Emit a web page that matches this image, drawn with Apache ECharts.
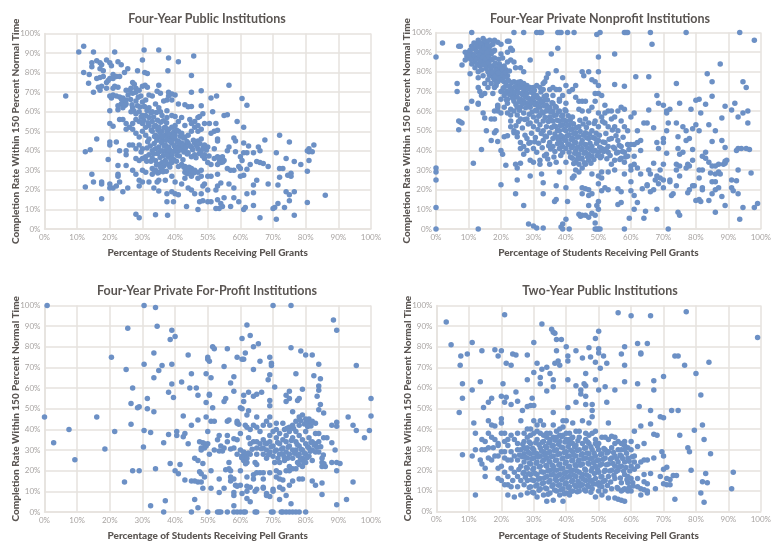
<!DOCTYPE html>
<html>
<head>
<meta charset="utf-8">
<title>Completion rate and Pell grants</title>
<script src="https://cdn.jsdelivr.net/npm/echarts@6/dist/echarts.min.js"></script>
<style>
html, body { margin: 0; padding: 0; background: #fff; }
#chart { width: 774px; height: 542px; }
</style>
</head>
<body>
<div id="chart"></div>
<script>
// 读图估计的数据 [Pell %, 完成率 %]
var publicPoints = [
[6.5,68],[10.5,90.5],[12,93.5],[15,90.5],[21.5,90.5],[30.5,91.5],[35,91.5],[38,87.5],[41,85.5],[45.7,88.5],[30,86.5],[12,80],[13.7,79],[14.5,85],[14.5,83],[16,86],[17,85],[17.5,84],[17,82],[18,81],
[19,86.5],[20,85],[20.5,83.5],[22.5,85.5],[23.5,84],[21,79],[22,78],[23,78],[24.5,80],[25.5,82],[28.5,81],[30.7,80],[31.5,79.5],[37.8,81],[45,78.5],[13.5,74.5],[15,70],[16.5,72.5],[17,71],[17.5,73],
[16,77],[17,77.5],[18,78],[19,72],[19,75],[19.5,76],[20,77],[21,77],[21.5,73],[22.5,72.5],[21,72],[20.5,67],[20,68],[21,68.5],[22,68],[23,67.5],[24,67],[25,66],[24,65.5],[23.5,64],
[25,64],[22.5,63],[24,62],[22.5,61],[20,60.5],[26,71],[25,71],[27,75],[27.5,74],[26.5,72],[28,72],[28,70],[27,69.5],[29,71],[30,73],[30.8,73.5],[31.5,72.5],[29.5,68],[31,66],[30,65],
[28,65.5],[28.5,63],[27,62],[26.5,60],[28,59],[29,60],[30,58],[31,58],[32,57],[32,62],[33,60],[34,64],[33,68],[32,68.5],[34.5,70.5],[35.5,69.5],[35,73.5],[38,70],[39,69],[40,68.5],
[38,68],[37.5,66],[39,66],[36.5,65.5],[35,62],[35.5,60],[37.5,60.5],[36,58],[37.5,57],[39,58],[40,57.5],[41,64],[43,63.5],[44,62.5],[45,62.7],[45,70],[48,70.7],[48,63],[52.7,68],[51,67],
[56.5,73.5],[60.5,66.7],[62,63.3],[51.5,60],[48.5,59],[47,57],[47.5,57.5],[46,55],[44.5,56],[43,53],[42,57],[41,55],[40,53],[39,52],[38,51],[37,52],[36,50],[35,52],[34,53],[33,55],
[32,53],[31,52],[30,54],[29,55],[28,56],[27,54],[26,52],[25,54],[24,56],[23,56],[21,52.5],[20,54],[25,51],[27,51],[28,49],[29,47],[30,50],[31,48],[32,46],[33,50],[34,48],[35,47],
[36,46],[37,48],[38,47],[39,46],[40,48],[41,50],[42,49],[43,47],[44,48],[45,50],[46,52],[47,50],[48,51],[49,54],[50.5,54],[45,54],[47,53],[52.5,54],[53,50.5],[52,50],[51,49],[55,58],[56,58.5],
[59,55],[61,52],[58,46.5],[58.5,45],[61,44],[53,46],[53,45],[56.5,42],[56,40],[58.5,39.5],[61,39],[62,39],[64,39],[65.5,42],[66,40],[67.5,45.5],[72,48],[75,44.5],[71,39],[80.5,40],
[81,41],[81,39.5],[82,39.5],[82.5,43],[81,35],[80.5,29.5],[78.5,33],[76.5,34.5],[74,36],[72,31],[73,31],[68.5,32],[67,33.5],[66,34],[65,34.5],[63,33],[62,30.5],[60,31],[59.5,32],[60,27],
[61,27.5],[58,30],[57,30],[56,31],[55,35],[54,34],[53,33],[52,36],[53,37],[54,36],[54.5,37],[52,41],[50,42],[49,38],[48,40],[47,41],[46,44],[47,45],[48,46],[49,43],[44,44],[45,42],
[43,43],[42,44],[41,45],[40,46],[39,44],[38,42],[37,43],[36,44],[35,42],[34,41],[33,40],[32,38],[31,37],[30,36],[29,35],[28,36],[36,40],[37,40],[38,39],[39,38],[40,42],[41,42],[42,41],[43,40],
[44,39],[45,37],[46,38],[40,40],[41,40],[38,37],[39,36],[37,35],[36,34],[35,33],[36,31],[35,29],[34,30],[33,31],[34,35],[33,36],[38,33],[39,34],[41,32],[42,33],[43,32],[44,30],[43,29],[45,31],
[46,30],[47,29],[48,30],[45,27],[47,26],[48,27],[50,27],[51,27],[53,28],[51,33],[50,34],[49,36],[30,30],[31,29],[33,28],[35,25],[37,25],[39,27],[40,24],[42,23],[43,26],[44,21],[45,20],[46,18],
[48,18],[48.5,22],[49,23],[47.5,14],[48.5,14.5],[50,14],[51,14],[47,10],[52.5,10.5],[53.5,10.5],[54.5,11.5],[55,16],[53,15],[54,13],[57,11.5],[58,16],[58,21],[56.5,23],[54,23.5],[53,22],[52.5,20],[50,20],
[43.5,11.5],[39.5,14],[37.5,14],[39,19],[40,18],[41,17.5],[37.5,18],[35,19.5],[33.5,21],[34.5,24],[32,24],[30,24],[29,22],[29,25],[25.5,21],[24,19],[22,22],[21,21],[20,21],[20,23],
[23,24],[22.5,27],[22.5,28],[22.5,32.5],[25,32.5],[27,30],[28,28],[17.5,15.5],[17.5,24],[17.5,23],[15,24],[14.5,28],[12.5,21.5],[12.5,39.5],[14,40.5],[16,46],[19.5,35.5],[20,43],[20,44.5],[22,44.5],
[23,40],[25,38],[25,40],[26,43],[27,43],[28,41],[29,43],[30,41],[28,7.5],[29,5.7],[34,7.3],[37.7,7],[59.5,14],[61,10],[61.5,11],[64,12],[62,18],[64,18.5],[64,22.5],[65,25],[68.5,23],[71.5,22.5],
[72,26.5],[74,19],[75,17.5],[73.5,11],[75,14.5],[71.5,13],[70,10.5],[70.5,11],[71,5],[66,5.7],[76.5,7],[76.5,19],[74.5,27.5],[75.5,27],[75.5,28.5],[80.5,13.5],[86,17.3],[62.5,42.5],[60,37],[60.5,35]
];
// 中心密集区补点
var publicDense = [
[23.6,66.4],[24.7,63.3],[25.6,68.6],[26.4,66.3],[26.8,63.6],[27.4,60.3],[28.7,67.4],[29.3,62.4],[29.6,57.3],[30.6,62.7],[30.4,55.6],[31.4,60.6],[31.7,54.4],[32.6,59.4],[32.7,50.6],[33.4,57.3],[33.6,52.4],[33.7,47.3],[34.3,59.6],[34.6,55.6],
[34.7,50.7],[34.4,45.4],[35.6,54.6],[35.4,49.3],[35.7,44.6],[35.3,39.7],[36.4,55.4],[36.6,51.6],[36.3,47.6],[36.7,42.4],[36.4,37.6],[36.6,32.4],[37.4,54.3],[37.6,49.7],[37.3,45.4],[37.7,41.3],[37.4,37.7],[37.6,33.4],[37.3,29.6],[38.4,48.6],
[38.6,44.7],[38.3,40.6],[38.7,35.6],[38.4,31.7],[39.6,49.7],[39.3,47.4],[39.7,42.6],[39.4,39.7],[39.6,35.4],[40.4,50.6],[40.7,44.4],[40.3,41.4],[40.6,37.7],[40.4,34.6],[41.6,47.4],[41.4,43.7],[41.7,40.6],[41.3,37.3],[42.6,46.6],[42.4,42.7],
[42.7,39.4],[42.4,35.4],[42.7,31.6],[43.6,44.7],[43.3,41.7],[43.7,38.3],[43.4,30.6],[43.7,28.3],[44.6,42.6],[44.3,31.6],[44.7,29.4],[45.6,45.4],[45.4,40.6],[45.7,28.6],[46.6,42.4],[46.4,36.4],[47.6,43.6],[47.4,38.6],[48.6,41.4],[48.4,37.3],
[49.6,40.4],[50.4,37.4],[53.6,34.6],[54.6,34.3],[53.4,36.4],[31.6,44.6],[32.4,42.4],[33.6,43.7],[34.6,38.6],[33.4,38.4],[34.3,32.7],[35.6,31.4],[35.4,36.6],[32.6,34.7],[31.3,34.6],[34.7,28.6],[36.3,29.3],[33.7,29.6],[29.6,39.4],[31.4,41.4]
];
var nonprofitPoints = [
[0,87.5],[2,94.7],[0,31],[0,29],[0,25],[0,11],[0,0],[13,0],[11,100],[24,100],[27,100],[31,100],[32,100],[32.5,100],[37.5,100],[38,100],[38.5,100],[40.5,100],[42.5,100],[49.5,99],[50.5,100],[58,100],[58.5,100],[59,100],
[66,100],[77,100],[93.5,100],[98,96],[66.5,94],[55,89],[35.5,89],[37.5,92],[29,86],[50,87.5],[6.5,74],[6.5,70],[7,55],[7.5,54.5],[8,54],[7,50.5],[9.5,61.5],[11,65],[13,64],[13,63.5],[14,68],[11.5,33.5],
[14,40.5],[20,22.5],[25,25],[24.5,18],[29,27],[27,12],[28.5,2.5],[30,1.5],[31,0.5],[33,0.5],[33,18],[33,23.5],[32.5,28],[7,93],[7.5,93],[8,83.5],[9,86],[9.5,88],[10,90],[9,90],[10,87],[10.5,91],[11,93],
[11,89],[11.5,87],[11,84],[10.5,79],[12,82],[12,85],[12,92],[12.5,94],[13,96],[13,90],[13,87],[13.5,83],[13,80],[13,77],[13,72],[13.5,70],[14,92],[14,89],[14,86],[14,81],[14.5,97],[14.5,94],[14.5,78],[15,90],
[15,85],[15,74],[15,69],[15.5,95],[15.5,92],[15.5,88],[16,83],[16,80],[16,76],[16,72],[16.5,96],[16.5,91],[16.5,86],[17,89],[17,78],[17,81],[17,74],[17.5,94],[17.5,83],[17.5,69],[18,96],[18,91],[18,87],[18,79],
[18,76],[18.5,82],[18.5,73],[19,95],[19,81],[19,78],[19,75],[19.5,84],[20,94],[20,89],[20,80],[20,77],[20.5,87],[20.5,79],[21,83],[21,75],[21.5,81],[22,90],[22,95.5],[22.5,95.5],[23,92],[23.5,91],[23,86],[24,85],
[24.5,82],[26,82],[27,80],[22,78],[22,85],[25,73],[24,75],[23,72],[22,70],[21,72],[20,70],[20,66],[21,68],[22,66],[23,69],[24,68],[25,71],[26,75],[26,72],[27,74],[27,70],[28,73],[28,69],[29,72],[30,72],[31,73],
[32,72],[33,71],[24,65],[25,67],[26,66],[26,62],[27,65],[28,64],[29,66],[29,62],[30,65],[30,69],[31,60],[31,64],[31,68],[32,66],[32,62],[33,65],[33,59],[34,63],[34,68],[34,60],[35,57],[35,62],[35,71],[36,55],
[36,60],[36,64],[36,68],[37,52],[37,58],[37,62],[38,50],[38,55],[38,60],[38,65],[39,47],[39,53],[39,58],[40,45],[40,50],[40,55],[40,60],[41,43],[41,48],[41,53],[42,42],[42,46],[42,51],[42,57],[43,40],[43,44],[43,49],
[44,38],[44,47],[44,52],[45,36],[45,41],[45,45],[46,39],[46,43],[46,49],[47,35],[47,38],[47,46],[47,54],[48,37],[48,42],[48,50],[49,40],[49,46],[50,39],[50,45],[50,52],[51,41],[51,37],[52,44],[52,54],[53,42],[53,39],[54,46],
[55,41],[55,35],[56,39],[56,50],[57,36],[57,42],[58,34],[58,39],[59,37],[59,43],[60,32],[60,43],[61,37],[18,72],[19,62],[18,60],[19,63],[20,59],[21,62],[22,64],[23,61],[23,58],[24,60],[25,62],[25,58],[26,56],[27,59],[28,56],
[29,54],[30,57],[30,52],[31,55],[32,58],[32,53],[33,55],[33,50],[34,52],[34,47],[35,49],[35,44],[36,46],[36,42],[37,47],[38,45],[38,41],[39,42],[40,41],[41,39],[42,36],[43,34],[44,33],[45,31],[46,33],[44,29],[43,30],[24,50],
[25,47],[26,44],[26,41],[27,42],[27,38],[28,46],[28,40],[29,44],[29,35],[30,41],[30,34],[31,39],[32,35],[32,33],[33,45],[34,38],[35,33],[37,34],[38,29],[39,39],[40,34],[25,31],[24.5,33],[20,40],[20.5,38],[21.5,32.5],[26,33.5],
[14.5,59],[15,56.5],[15.5,50],[17,45],[17,56],[18,56],[18,49],[18.5,50],[19,44.5],[19,60],[21,47],[22,47.5],[23,52],[24,49],[25,49],[22,59],[23,55],[30,67],[33,74],[34,77],[33.5,75],[34.5,79],[36,72],[37,71],[37,80.5],[38,66],
[38,71],[39,68],[39,77],[40,73],[40,64],[41,70],[42,71],[43,67],[43,73],[44,65],[44,61],[45,65],[45,60],[45,80],[45.5,78],[46,65],[46,56],[47,60],[47,80],[48,76],[48,62],[49,75],[49,69],[49,65],[49,55],[50,73],[50,80],[50,69],
[50,59],[51,68],[51,57],[52,63],[52,59],[53,60],[53,52],[54,60],[54,56],[55,73.5],[55,57],[55,52],[56,60],[56,45],[57,62],[57,55],[58,72.7],[58,61],[58,52],[59,50],[60,57],[61,43],[61,59],[61.5,77.5],[62,50],[62,44],[63,40],[63,45],
[64,54],[65,54],[65.5,77.5],[65.5,60.5],[67,51.5],[68,68],[68,44],[68.5,41],[68.5,64],[70,63],[70,46],[70,44],[71,60],[71,59],[71.5,54],[71,50],[72,61],[71,38.5],[74,54],[74,74],[74.5,47],[74.5,41],[75,64],[75,38],[76,52],[76,39],
[77,45],[77,50],[78,46],[78.5,61],[79,51],[79,40.5],[80,53],[80,65.5],[81,66],[81,50],[81.5,59],[83,63.5],[83.5,79],[84,53],[85,75],[85,67.5],[85,44.5],[86,50],[87.5,84],[88,56.5],[88,45],[89,62.5],[89,41.5],[91,60.5],[92,64],[93,57],
[93,41],[94.5,59],[94.5,75],[95.5,72],[96,60],[96,54],[92.5,40],[94,41],[95.5,41],[96.5,40.5],[97,28.5],[94.5,11],[93.5,5],[98,11],[99,13],[93,30],[91,25],[92.5,24.5],[93,18],[91,21],[91.5,19.5],[89,12],[88,16.5],[86,8.5],[84,14.5],
[85,18],[86,20],[87,21],[85,24],[86,24],[84.5,28.5],[86,28],[87,29],[87.5,28],[86,32],[87,33],[88.5,33],[89,33.5],[89,34.5],[89.5,35],[85,32],[84,34],[83,36],[83,39],[82,37],[82,30],[81,30],[81,26],[81,15],[80,14.5],[81.5,14],[82,20],
[82,21],[79,22],[79.5,22],[78,20],[77.5,18.5],[77,31],[77.5,33],[78,32],[79,35],[74,33],[75,32],[74,30],[75,27],[74,22],[73,18],[72.5,17],[72,24],[72,25],[74.5,8.5],[75,7],[71.5,0],[70,21],[70,25],[69,26],[68.5,23],[68,27],[67.5,25],
[67,20],[66,19],[65,22],[65.5,30],[66,28],[67,33.5],[69,30],[70,33],[63,28],[62,31],[61,33],[60,30],[60,24],[60,19.5],[61,17],[62,13.5],[61,10],[64.5,9],[64,5.5],[68,10],[63.5,20.5],[65,22.5],[58,0],[59.5,5.5],[57,13.5],[56,12.5],[56,20.5],
[57,19],[58,28],[55,30],[54,33],[53,29],[52,21],[53,20],[51,29],[51,26],[50,27],[50,23],[51,19.5],[50,14],[49.5,12],[50,10],[49,7],[48,8],[47,6],[47,12],[48,18],[48,28],[46,20.5],[47,20],[47,17],[45,21],[45,18],[44,7.5],[44.5,6.5],[45,7],
[46,7],[40,5],[39,2.5],[38.5,1],[39,0],[41,0],[40.5,14],[40,21],[37,22],[37,15],[36.5,14],[42,26],[42.5,27],[49,0],[49.5,0],[50,0],[50.5,0],[49,3]
];
// 深色带状区补点
var nonprofitDense = [
[10.3,88.4],[10.8,86.2],[11.3,91.7],[11.7,94.6],[11.8,88.3],[12.4,90.6],[12.6,86.7],[12.7,83.8],[13.3,92.8],[13.4,88.6],[13.6,85.2],[13.8,94.7],[14.3,90.8],[14.4,87.4],[14.6,83.6],[14.8,92.3],[15.2,95.7],[15.3,86.6],[15.4,81.7],[15.7,89.6],
[15.8,93.6],[16.2,87.6],[16.3,84.6],[16.4,78.4],[16.7,93.2],[16.8,82.6],[17.2,86.3],[17.3,79.6],[17.7,76.8],[17.8,90.4],[18.2,84.4],[18.3,77.7],[18.6,80.6],[18.7,74.6],[19.2,79.5],[19.3,86.4],[19.6,76.6],[19.7,82.7],[20.3,75.7],[20.4,81.6],
[20.6,78.3],[21.2,77.4],[21.4,79.7],[21.6,73.4],[22.3,75.6],[22.6,80.4],[20.7,71.6],[21.3,69.4],[21.7,65.7],[22.4,72.7],[22.7,68.3],[23.3,74.6],[23.4,70.5],[23.6,66.6],[24.3,72.4],[24.4,69.6],[24.6,63.4],[25.3,74.7],[25.4,69.3],[25.6,64.6],
[25.7,60.4],[26.4,73.8],[26.6,68.4],[26.7,63.7],[27.3,71.6],[27.4,67.3],[27.6,61.7],[28.3,71.4],[28.4,66.6],[28.6,62.3],[28.7,58.4],[29.3,69.6],[29.4,64.3],[29.6,59.6],[30.3,70.6],[30.4,63.4],[30.6,60.3],[31.3,66.7],[31.4,62.4],[31.6,57.4],
[32.3,69.7],[32.4,64.4],[32.6,59.7],[33.3,67.4],[33.4,62.6],[33.6,56.7],[34.3,65.6],[34.4,61.3],[34.6,54.7],[35.3,59.6],[35.4,55.3],[35.6,51.6],[35.7,64.3],[36.3,57.7],[36.4,52.6],[36.6,48.3],[36.7,62.4],[37.3,55.4],[37.4,50.3],[37.6,45.7],
[37.7,59.6],[38.3,52.7],[38.4,47.6],[38.6,43.4],[38.7,57.4],[39.3,55.6],[39.4,50.6],[39.6,45.3],[39.7,60.7],[40.3,52.7],[40.4,47.4],[40.6,43.3],[40.7,57.6],[41.3,55.4],[41.4,50.6],[41.6,45.6],[41.7,41.3],[42.3,53.6],[42.4,48.6],[42.6,44.3],
[42.7,38.6],[43.3,51.6],[43.4,46.7],[43.6,41.7],[43.7,37.4],[44.3,55.3],[44.4,49.6],[44.6,43.4],[44.7,35.6],[45.3,53.4],[45.4,47.7],[45.6,38.6],[45.7,33.7],[46.3,51.6],[46.4,46.4],[46.6,41.3],[46.7,36.6],[47.3,48.4],[47.4,43.7],[47.6,40.4],
[47.7,33.4],[48.3,46.6],[48.4,39.6],[48.6,35.4],[48.7,53.7],[49.3,48.7],[49.4,43.6],[49.6,37.4],[50.3,47.7],[50.4,41.6],[50.6,36.3],[51.3,54.7],[51.4,44.3],[51.6,39.4],[52.3,48.6],[52.4,40.7],[52.6,35.7],[53.3,45.7],[53.6,37.4],[54.3,50.4],
[54.6,41.6],[55.4,47.4],[55.6,38.7],[56.4,42.6],[56.6,35.4],[57.4,39.4],[57.6,46.7],[58.4,36.6],[59.4,40.4],[27.3,55.7],[28.4,53.4],[26.6,51.4],[25.4,54.7],[24.6,52.6],[29.4,48.7],[30.6,46.6],[31.4,50.6],[32.4,48.6],[33.6,47.3],[34.7,42.4],
[35.3,40.7],[36.6,39.4],[37.4,43.4],[31.6,43.7],[32.7,41.3],[30.4,44.4],[28.6,43.6],[27.4,47.7],[36.3,36.6],[38.4,37.4],[41.4,36.7],[43.6,35.6],[42.4,33.3],[44.6,40.4],[33.4,37.3],[34.4,35.6]
];
var forprofitPoints = [
[0.8,100],[30.5,100],[34,99],[70,100],[75.5,100],[88.5,93],[89.5,88],[62,90.5],[34.5,90],[25.5,89],[39,88],[38.5,83.5],[40,85],[60.5,84],[63,85.5],[65.5,81.5],[51.5,80],[52,79],[56,79],[64,80],[75.5,79.5],[78.5,78],[80,76],[82,76],
[61.5,77],[20.5,75],[33.5,77],[44,76],[50,75],[50,74],[50.5,73],[59,75],[60.5,74],[61,74],[66,73],[69,75],[69.5,72],[69.5,71],[55,70.5],[95.5,71],[84,71.5],[36,71],[30.5,71.5],[39,71.5],[35,68.5],[25,69],[33.5,65],[45,67],[49.5,67],
[51,65],[57,62.5],[58,65.5],[64,69],[69,66.5],[68.5,64],[77,67],[82.5,66],[84.5,64.5],[84,61],[84,59],[79,59.5],[42,63],[39,62],[27,60],[44.5,60],[46.5,60],[38,58],[47,56.5],[50.5,57],[50.5,56.5],[58,58.5],[61,56.5],[62.5,58],[64,56],
[65,57],[66.5,58],[70.5,60.5],[74,56.5],[75,58.5],[75,55],[74,53.5],[77.5,54],[78,55],[83.5,56],[84,49.5],[84.5,52],[85.5,48],[100,55],[100,46.5],[31.5,55],[39.5,55.5],[26.5,52.5],[28.5,50.5],[29,51],[31.5,50],[33.5,48.5],[49.5,53],
[51.5,50.5],[55,53.5],[55.5,55],[60,50.5],[60.5,50],[61,53.5],[69,54],[69,51.5],[76,48.5],[62.5,49],[0,46],[16,46],[42.5,46.5],[49.5,46],[47,44.5],[51,44],[52,44],[56,44],[56.5,44.5],[59,44],[59,43],[59.5,42.5],[62,47],[65,46],[68,44],[69,46],
[71,43],[73,43],[77,44],[78,46],[79,47],[80,45],[81,45],[82,44],[81,43],[83,43],[80,43],[78,42],[76,42],[75,41],[73.5,40],[71,40],[69,42],[67,42],[66,39],[65,41],[64,42],[63,40],[62,41],[61.5,42],[26.5,42.5],[45,42],[88,42],[89.5,43.5],
[89.5,41.5],[93,46],[94.5,42],[95.5,39.5],[99.5,39.5],[98,36],[7.5,40],[2.8,33.5],[9.3,25.3],[18.5,30.5],[21.5,39],[30.5,39.5],[32.5,38.5],[30.3,31.5],[36.5,33.5],[38,37.5],[40.5,39],[40.5,37],[42.5,36.5],[43,38],[50,39],[53,35],[53.5,37],
[52,30],[53.5,29.5],[54.5,29.5],[54,32],[55,31],[56,37],[56,34],[58,35.5],[59,35],[57,30.5],[58,31],[59,28],[60,38],[60,30],[60.5,27],[61,29],[61,25],[61.5,27],[62,24],[62,26],[63,28],[63,33],[62.5,36],[64,34],[65,34],[65,31],[65,28],[64.5,24],
[66,33],[67,35],[67,31],[67,28],[68,33],[68,30],[68,26],[69,37],[69,34],[69,29],[70,39],[70,32],[70,27],[70.5,24],[71,36],[71,30],[71.5,26],[72,38],[72,33],[72,28],[72,24],[73,35],[73,31],[73,28],[73.5,25],[74,37],[74,34],[74,29],[74.5,26],
[75,39],[75,32],[75,28],[76,36],[76,30],[76,26],[77,39],[77,34],[77,30],[77.5,24],[78,37],[78,32],[78,28],[78,23],[79,35],[79,30],[79,26],[79,22],[80,39],[80,33],[80,28],[80,24],[81,36],[81,31],[81,27],[82,34],[82,30],[82,25],[83,38],[83,33],
[83,29],[84,38],[84,34],[84,29],[85,26],[85,24],[85.5,36],[86,22],[85,22],[86.5,36],[88,33.5],[88,24],[89,30],[89.5,24],[90.5,23.5],[89.5,20],[44,33],[47.5,34],[48.5,33.5],[48,31],[49,31],[49,33],[49.5,32],[50,33],[48,30],[50.5,28],[47,25],
[46,26],[48.5,23.5],[51,20],[47.5,19.5],[48,18.5],[49,17],[43,15.5],[45,15],[46,15],[47,14.5],[48,14.5],[48.5,11.5],[51,11.5],[53.5,16],[53.5,9.5],[55,11.5],[55.5,20.5],[56.5,21],[56.5,24],[57,20],[57,17],[58,16],[57,15],[58.5,13],[59,12.5],[60,20],
[60,13],[60.5,9],[58,8],[58,9.5],[62,17],[62,12.5],[62,10],[62,6.5],[63,5],[63,12],[64,16],[64,18],[65,19],[65,23],[65,11],[64.5,10],[66,19],[67,19],[67,16],[67,12],[67,11.5],[68,9],[68,8],[69,7.5],[69,19],[70,11],[70,10],[71,17],[71,20],
[72,19],[72,16],[72,12],[72,6],[73,11],[73,15.5],[74,20],[74,8],[75,20],[76,21],[77,21],[75,13],[76,15],[75.5,4],[78,16],[79,16],[75,22],[82,15],[83,13],[85,14],[85,8.5],[89.5,3.5],[92.5,6],[94.5,14.5],[24.5,14.5],[27,20],[29,20],[34,21],[38.5,23.5],
[41.5,23],[40,20],[41,18.5],[32.5,3],[37,5.5],[36.5,0],[45,0],[47,2],[46,6],[50,0],[53,0],[53.5,0],[54,0],[56,0],[58,3],[58,0],[59,0],[60,0],[61,0],[61.5,0],[64.5,0],[65,0],[69.5,0],[70,0],[72.5,0],[73,0],[74,0],[75,0],[76,0],[77,0],[78,0],[80,0]
];
var forprofitDense = [
[60.4,26.3],[61.6,23.4],[62.4,28.6],[63.6,30.4],[66.4,30.6],[67.6,33.4],[68.6,27.7],[69.4,31.6],[70.6,29.4],[71.4,33.7],[72.6,30.4],[73.4,26.6],[74.6,31.4],[75.6,34.6],[76.6,28.4],[77.4,32.7],[77.6,27.4],[78.6,30.4],[78.4,25.4],[79.6,28.6],
[79.4,24.3],[80.6,31.6],[80.4,26.3],[81.6,33.7],[81.4,29.4],[82.6,32.4],[83.4,31.4],[74.3,40.6],[76.3,40.4],[78.4,44.3],[79.6,42.6],[80.6,41.4],[81.6,41.7],[84.6,31.6],[85.4,27.6],[85.6,23.4]
];
var twoyearPoints = [
[3,92],[4.5,81],[7.5,75.5],[9.5,76.5],[7.3,71],[8,62],[8,55],[7,48],[8,27.5],[11,82],[11,59],[11.5,43],[12,38],[12,8],[14,78],[13.5,63],[14.5,50.5],[16,53],[17,55],[18,78.5],[19,75.5],[20,78],[21,95.5],[20.5,62],[20,56],[21.5,55.5],[21,53],[23,52],
[21.5,72],[23,71],[23.5,76.5],[24.5,76],[24.5,58],[25,53.5],[28,76],[28,64],[28,51],[29,51.5],[30,51.5],[29.5,55],[26.5,49],[30,67.5],[30,82],[31,72],[32,65],[32,62],[32.5,91],[32.5,69],[34,70],[34,58.5],[35,67],[35.5,88.5],[36,87],[36.5,86.5],[36,64],
[36,60.5],[36.5,72],[37,78],[37,83.5],[37.5,73],[38,71],[38.5,83.5],[40,80],[40.5,75.5],[40.5,73],[40.5,50.5],[40.5,64],[43,78],[43,61],[43,53],[44.5,59],[44.5,57],[45,74.5],[45.5,62],[46,67],[46,61],[46,56],[47,79.5],[47.5,75],[48,52],[48,46],[48,49],
[46,52],[49,84],[49,72.5],[49,64],[50,87.5],[50,79],[50,77],[50.5,69.5],[50,59],[51.5,75.5],[52.5,72],[52,60.5],[52.5,53],[53,43],[55,59],[56,96.5],[57,76.5],[58,71],[58,80],[58,63],[60,95],[62,81.5],[62,62],[62.5,51],[63,76.5],[63,77],[63,41.5],[65,81.5],
[66,95],[66,49],[66,42.5],[67,63.5],[67,59],[67,37.5],[68,37],[69,46],[70,65.5],[70,45.5],[72.5,49],[73.5,75.5],[74.5,75.5],[74.5,49],[75,37],[76.5,71],[77,97],[77.5,31],[78,29],[78.5,20],[79.5,39.5],[80,67],[81.5,56.5],[82,42],[82.5,35],[84,72.5],[84.5,28],
[99,84.5],[82,14.5],[83,18.5],[83.5,14],[81.5,9],[82.5,4.5],[91,11],[91.5,19],[73.5,6],[73,17.5],[74,17.5],[72,15.5],[71,21.5],[70,20.5],[70,27],[69.5,29],[71,16],[71,13],[70,13.5],[69,17],[72,13],[67,26],[66,18.5],[65,25],[64,25],[63,24],[62,31.5],[64,33],
[61,39],[61,27],[61,24],[61,20.5],[62,22],[62,16],[62,12],[63,8],[63,11],[64,18],[64,14.5],[64,10.5],[65,13.5],[65,10],[65,9],[67.5,11],[60,34],[59,31],[58,34],[57,33],[56,34],[55,33],[54,36.5],[53,35],[52,30],[51,36],[50,33],[49,35],[48,38],[47,37],
[46,35],[45,44],[44,36],[43,39],[42,43],[41,38],[40,44],[39,44],[38,37],[37,36],[36,48],[36,42],[35,38],[34,36],[33,42],[32,44],[31,42],[30,44],[29,40],[28,40],[27,38],[26,44],[25,38],[24,35],[23,37],[22,35],[21,38],[20,45],[20,43],[20,38],[19,33],[18,41.5],
[17,42],[16,44],[16,38],[15,34],[14,35],[14,30],[13.5,25],[14,23],[15,21],[15,17],[16,26],[16,31],[17,25],[17.5,31],[18,27],[18,35],[19,27],[19,21],[19,16],[20,29],[20,22],[20,15],[21,34],[21,26],[21,19],[21,13],[22,32],[22,25],[22,17],[22,13],[22,8],
[23,29],[23,21],[23,12],[23.5,15],[24,27],[24,19],[24,7],[25,33],[25,25],[25,17],[25,12],[26,30],[26,22],[26,15],[26,8],[27,34],[27,28],[27,24],[27,19],[27,13],[28,36],[28,31],[28,26],[28,21],[28,15],[28,9],[29,33],[29,28],[29,23],[29,18],[29,12],[30,38],
[30,30],[30,26],[30,21],[30,15],[30,9],[31,35],[31,28],[31,24],[31,18],[31,13],[31,7],[32,38],[32,31],[32,27],[32,22],[32,16],[32,11],[33,34],[33,29],[33,25],[33,19],[33,14],[33,8],[34,38],[34,31],[34,26],[34,22],[34,17],[34,11],[34,5],[35,34],[35,29],[35,24],
[35,20],[35,15],[35,9],[36,32],[36,27],[36,22],[36,18],[36,13],[36,5.5],[37,39],[37,30],[37,25],[37,20],[37,15],[37,10],[38,34],[38,28],[38,23],[38,18],[38,13],[38,8],[39,5],[39,37],[39,31],[39,26],[39,21],[39,16],[39,11],[40,35],[40,29],[40,24],[40,19],[40,14],
[40,9],[41,33],[41,27],[41,22],[41,17],[41,12],[41,8],[42,36],[42,29],[42,25],[42,20],[42,15],[42,10],[43,32],[43,27],[43,22],[43,17],[43,12],[44,30],[44,25],[44,19],[44,14],[44,10],[45,33],[45,28],[45,23],[45,18],[45,13],[46,31],[46,26],[46,20],[46,15],[46,10],
[47,33],[47,28],[47,23],[47,17],[47,12],[48,30],[48,26],[48,21],[48,15],[48,11],[49,33],[49,27],[49,22],[49,16],[49,7],[50,30],[50,25],[50,19],[50,14],[50,10],[51,28],[51,23],[51,17],[51,12],[51,8],[52,26],[52,20],[52,15],[52,10],[53,29],[53,23],[53,17],[53,6.5],
[54,31],[54,26],[54,20],[54,11],[55,27],[55,22],[55,16],[55,6.5],[56,30],[56,24],[56,20],[56,11],[56,6],[57,27],[57,22],[57,14],[57,10],[57,5.5],[58,30],[58,24],[58,18],[58,11],[58,5],[59,26],[59,17],[59,14],[59,10],[60,30],[60,22],[60,16],[60,10],[60.5,14],
[11,27],[12,30],[15,30],[17,36],[19,32],[21,29],[23,25],[25,30],[27,31],[29,37],[31,39],[33,37],[35,35],[36,36],[38,40],[39,41],[40,38],[41,35],[42,33],[44,39],[46,38],[47,43],[49,39],[52,36],[55,36],[57,30],[58,32]
];
// 下方密集区补点
var twoyearDense = [
[25.6,27.4],[25.4,20.4],[26.6,32.6],[26.4,26.6],[26.7,18.6],[27.6,30.4],[27.4,26.3],[27.7,21.4],[27.4,16.6],[28.6,33.7],[28.4,28.6],[28.7,23.6],[28.4,18.3],[28.6,11.7],[29.6,30.7],[29.4,25.6],[29.7,20.4],[29.3,15.4],[29.6,9.4],[30.6,33.4],
[30.4,28.4],[30.7,23.4],[30.3,18.6],[30.6,12.4],[31.6,32.4],[31.4,26.4],[31.7,21.6],[31.3,15.6],[31.6,10.3],[32.6,33.6],[32.4,29.4],[32.7,24.4],[32.3,19.3],[32.6,13.6],[33.6,31.6],[33.4,27.3],[33.7,22.3],[33.3,16.4],[33.6,11.4],[34.6,33.3],
[34.4,28.4],[34.7,24.3],[34.3,19.6],[34.6,14.3],[34.4,8.4],[35.6,31.7],[35.4,26.6],[35.7,22.4],[35.3,17.7],[35.6,12.3],[36.6,34.6],[36.4,29.6],[36.7,24.7],[36.3,20.3],[36.6,15.6],[36.4,10.4],[37.6,32.6],[37.4,27.7],[37.7,22.6],[37.3,17.4],
[37.6,12.7],[38.6,36.3],[38.4,31.3],[38.7,25.6],[38.3,20.6],[38.6,15.4],[38.4,10.6],[39.6,33.7],[39.4,28.6],[39.7,23.4],[39.3,18.4],[39.6,13.4],[39.4,8.6],[40.6,31.6],[40.4,26.7],[40.7,21.6],[40.3,16.6],[40.6,11.7],[41.6,35.4],[41.4,29.7],
[41.7,24.6],[41.3,19.4],[41.6,14.6],[41.4,9.7],[42.6,31.4],[42.4,27.3],[42.7,22.7],[42.3,17.6],[42.6,12.7],[43.6,34.4],[43.4,29.6],[43.7,24.4],[43.3,19.6],[43.6,14.7],[43.4,9.6],[44.6,27.4],[44.4,22.4],[44.7,16.6],[44.3,12.3],[45.6,30.7],
[45.4,25.6],[45.7,20.6],[45.3,15.6],[45.6,10.6],[46.6,33.7],[46.4,28.4],[46.7,23.6],[46.3,17.7],[46.6,12.6],[47.6,31.4],[47.4,25.6],[47.7,19.7],[47.3,14.7],[47.6,9.4],[48.6,28.4],[48.4,23.7],[48.7,18.4],[48.3,13.3],[49.6,31.7],[49.4,24.6],
[49.7,20.3],[49.3,13.4],[50.6,27.7],[50.4,22.4],[50.7,16.7],[50.3,12.4],[51.6,30.6],[51.4,25.4],[51.7,19.4],[51.3,14.4],[52.6,28.4],[52.4,22.7],[52.7,12.6],[53.6,25.4],[53.4,19.6],[53.7,14.3],[54.6,28.7],[54.4,23.3],[54.7,17.6],[55.6,25.6],
[55.4,19.4],[55.7,11.6],[56.6,27.4],[56.4,21.7],[56.7,16.3],[57.6,32.6],[57.4,25.7],[57.7,19.6],[57.6,10.6],[58.6,28.3],[58.4,21.4],[58.7,15.4],[59.4,24.4],[59.6,19.6],[59.4,11.7],[60.4,26.6],[60.6,12.4]
];
var tickLabelFmt = '{value}%';
var xName = 'Percentage of Students Receiving Pell Grants';
var yName = 'Completion Rate Within 150 Percent Normal Time';
var panelTitles = ['Four-Year Public Institutions', 'Four-Year Private Nonprofit Institutions', 'Four-Year Private For-Profit Institutions', 'Two-Year Public Institutions'];
var panelData = [publicPoints.concat(publicDense), nonprofitPoints.concat(nonprofitDense), forprofitPoints.concat(forprofitDense), twoyearPoints.concat(twoyearDense)];

// 四个小图的位置
var rects = [
    { left: 44.5, top: 33.5, width: 326.5, height: 195.5, titleX: 207, titleY: 12 },
    { left: 436, top: 32.5, width: 326, height: 196.5, titleX: 600, titleY: 12 },
    { left: 44.5, top: 305.5, width: 326.5, height: 207, titleX: 207, titleY: 284 },
    { left: 436.5, top: 305.5, width: 331, height: 206, titleX: 600, titleY: 284 }
];

var chart = echarts.init(document.getElementById('chart'), null, { renderer: 'canvas' });
var fontName = 'Lato, "Noto Sans", sans-serif';
var gridColor = '#e6e2de';

var option = { animation: false, backgroundColor: '#fff', title: [], grid: [], xAxis: [], yAxis: [], series: [] };
rects.forEach(function(r, i) {
    option.title.push({
        text: panelTitles[i],
        left: r.titleX,
        top: r.titleY,
        padding: 0,
        textAlign: 'center',
        textStyle: { fontFamily: fontName, fontSize: 12.5, fontWeight: 'bold', color: '#5a5552' }
    });
    option.grid.push({ left: r.left, top: r.top, width: r.width, height: r.height });
    option.xAxis.push({
        gridIndex: i,
        type: 'value',
        min: 0,
        max: 100,
        interval: 10,
        name: xName,
        nameLocation: 'middle',
        nameGap: 19,
        nameMoveOverlap: false,
        nameTextStyle: { fontFamily: fontName, fontSize: 10, fontWeight: 900, color: '#5a5552' },
        axisLine: { show: true, onZero: false, lineStyle: { color: gridColor, width: 1.5 } },
        axisTick: { show: false },
        axisLabel: { formatter: tickLabelFmt, fontFamily: fontName, fontSize: 8, color: '#a8a4a2', margin: 4, hideOverlap: false },
        splitLine: { show: true, lineStyle: { color: gridColor, width: 1.5 } }
    });
    option.yAxis.push({
        gridIndex: i,
        type: 'value',
        min: 0,
        max: 100,
        interval: 10,
        name: yName,
        nameLocation: 'middle',
        nameGap: 24,
        nameMoveOverlap: false,
        nameTextStyle: { fontFamily: fontName, fontSize: 10, fontWeight: 900, color: '#5a5552' },
        axisLine: { show: true, onZero: false, lineStyle: { color: gridColor, width: 1.5 } },
        axisTick: { show: false },
        axisLabel: { formatter: tickLabelFmt, fontFamily: fontName, fontSize: 8, color: '#a8a4a2', margin: 4, hideOverlap: false },
        splitLine: { show: true, lineStyle: { color: gridColor, width: 1.5 } }
    });
    option.series.push({
        type: 'scatter',
        xAxisIndex: i,
        yAxisIndex: i,
        data: panelData[i],
        symbolSize: 5.5,
        clip: false,
        itemStyle: { color: '#6c90c5', opacity: 1 }
    });
});
chart.setOption(option);
</script>
</body>
</html>
